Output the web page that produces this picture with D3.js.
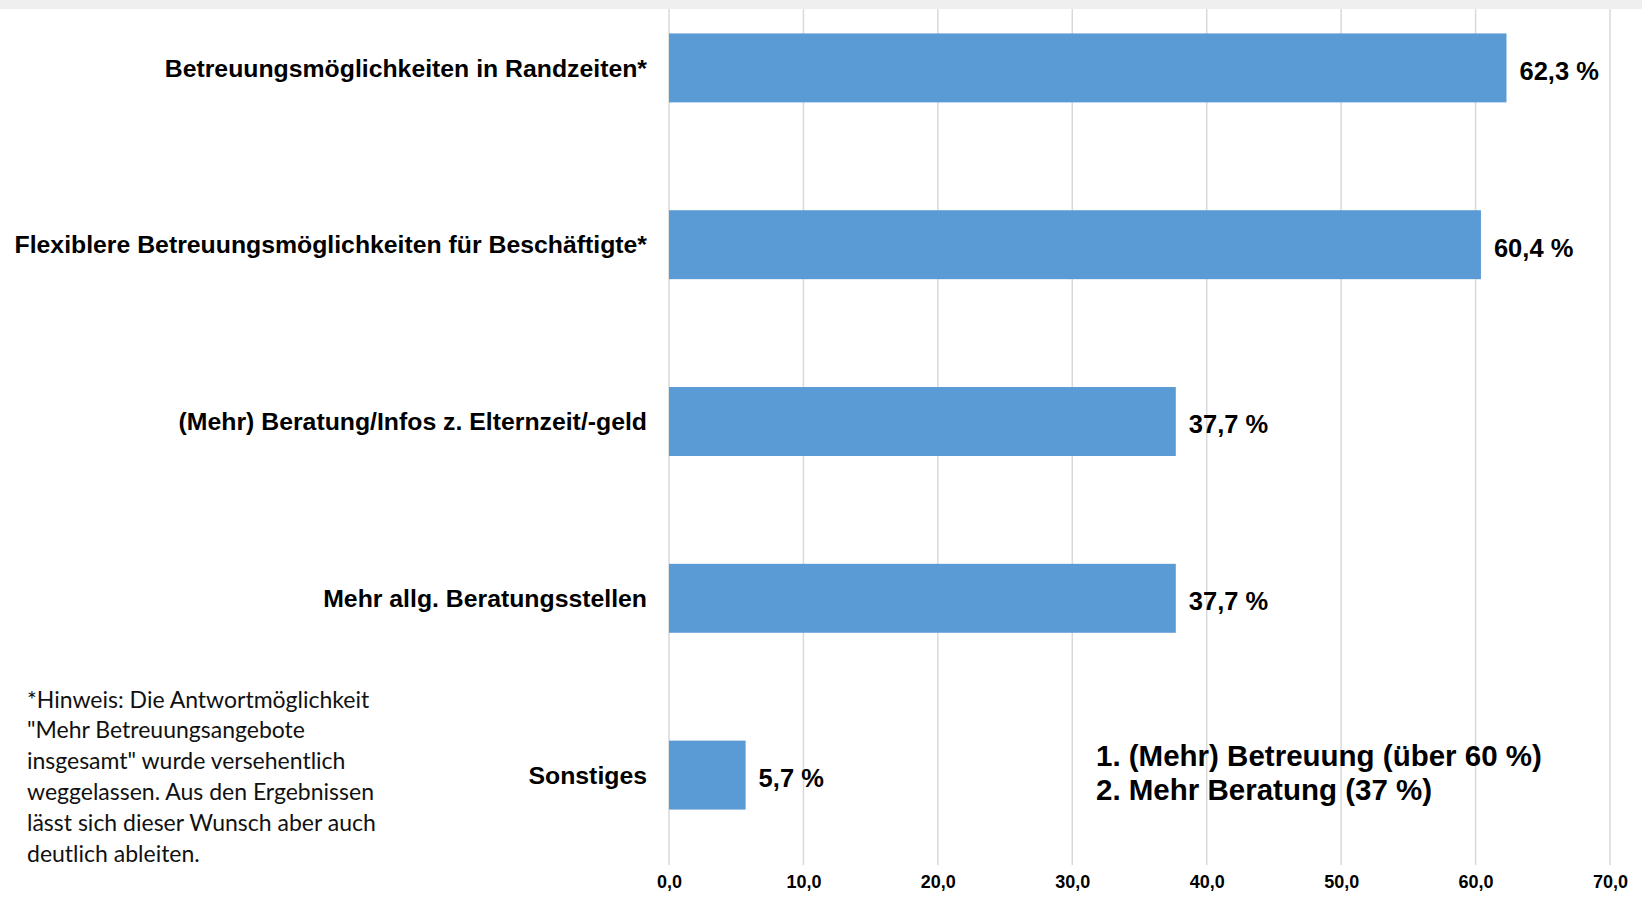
<!DOCTYPE html>
<html>
<head>
<meta charset="utf-8">
<script src="https://cdn.jsdelivr.net/npm/d3@7"></script>
<style>
  body { margin: 0; background: #fff; }
  svg { display: block; }
</style>
</head>
<body>
<svg id="chart"></svg>
<script>
// Data
const categories = [
    "Betreuungsmöglichkeiten in Randzeiten*",
    "Flexiblere Betreuungsmöglichkeiten für Beschäftigte*",
    "(Mehr) Beratung/Infos z. Elternzeit/-geld",
    "Mehr allg. Beratungsstellen",
    "Sonstiges"
];
const values = [62.3, 60.4, 37.7, 37.7, 5.7];
const xTicks = [0, 10, 20, 30, 40, 50, 60, 70];
const summaryLines = ["1. (Mehr) Betreuung (über 60 %)", "2. Mehr Beratung (37 %)"];
const noteLines = [
    "*Hinweis: Die Antwortmöglichkeit",
    "\"Mehr Betreuungsangebote",
    "insgesamt\" wurde versehentlich",
    "weggelassen. Aus den Ergebnissen",
    "lässt sich dieser Wunsch aber auch",
    "deutlich ableiten."
];

const data = categories.map((c, i) => ({ cat: c, value: values[i] }));

let width = 1642, height = 897;

let svg = d3.select('#chart')
    .attr('width', width)
    .attr('height', height);

// Scales
let xScale = d3.scaleLinear()
    .domain([0, 70])
    .range([669, 1610]);

let yScale = d3.scaleBand()
    .domain(categories)
    .range([-20.5, 863.5])
    .paddingInner(0.61)
    .paddingOuter(0.305);

// Gridlines
svg.append('g')
    .selectAll('line')
    .data(xTicks)
    .enter()
    .append('line')
    .attr('x1', d => xScale(d))
    .attr('x2', d => xScale(d))
    .attr('y1', 0)
    .attr('y2', 865)
    .attr('stroke', '#d9d9d9')
    .attr('stroke-width', 1.5);

// x axis tick labels
let xAxis = svg.append('g')
    .attr('transform', 'translate(0, 865)')
    .call(d3.axisBottom(xScale)
        .tickValues(xTicks)
        .tickSize(0)
        .tickPadding(10)
        .tickFormat(d => d3.format('.1f')(d).replace('.', ',')));
xAxis.select('.domain').remove();
xAxis.selectAll('text')
    .attr('font-family', 'Liberation Sans, Arial, sans-serif')
    .attr('font-weight', 'bold')
    .attr('font-size', 18)
    .attr('fill', '#000');

// Bars
svg.selectAll('rect.bar')
    .data(data)
    .enter()
    .append('rect')
    .attr('class', 'bar')
    .attr('x', xScale(0))
    .attr('y', d => yScale(d.cat))
    .attr('width', d => xScale(d.value) - xScale(0))
    .attr('height', yScale.bandwidth())
    .attr('fill', '#5b9bd5');

// Value labels
svg.selectAll('text.val')
    .data(data)
    .enter()
    .append('text')
    .attr('class', 'val')
    .attr('x', d => xScale(d.value) + 13)
    .attr('y', d => yScale(d.cat) + yScale.bandwidth() / 2 + 3)
    .attr('dy', '0.35em')
    .attr('font-family', 'Liberation Sans, Arial, sans-serif')
    .attr('font-weight', 'bold')
    .attr('font-size', 25.5)
    .text(d => d.value.toFixed(1).replace('.', ',') + ' %');

// Category labels
svg.selectAll('text.cat')
    .data(categories)
    .enter()
    .append('text')
    .attr('class', 'cat')
    .attr('x', 647)
    .attr('y', d => yScale(d) + yScale.bandwidth() / 2)
    .attr('dy', '0.35em')
    .attr('text-anchor', 'end')
    .attr('font-family', 'Liberation Sans, Arial, sans-serif')
    .attr('font-weight', 'bold')
    .attr('font-size', 24.8)
    .text(d => d);

// Summary box text
svg.append('g')
    .selectAll('text')
    .data(summaryLines)
    .enter()
    .append('text')
    .attr('x', 1096)
    .attr('y', (d, i) => 756 + i * 34)
    .attr('dy', '0.35em')
    .attr('font-family', 'Liberation Sans, Arial, sans-serif')
    .attr('font-weight', 'bold')
    .attr('font-size', 29.5)
    .text(d => d);

// Footnote
svg.append('g')
    .selectAll('text')
    .data(noteLines)
    .enter()
    .append('text')
    .attr('x', 27)
    .attr('y', (d, i) => 699.5 + i * 30.8)
    .attr('dy', '0.35em')
    .attr('font-family', 'Lato, Carlito, Calibri, sans-serif')
    .attr('font-size', 23)
    .attr('fill', '#111')
    .text(d => d);

// Grey band across the top
svg.append('rect')
    .attr('x', 0)
    .attr('y', 0)
    .attr('width', width)
    .attr('height', 9)
    .attr('fill', '#efefef');
</script>
</body>
</html>
